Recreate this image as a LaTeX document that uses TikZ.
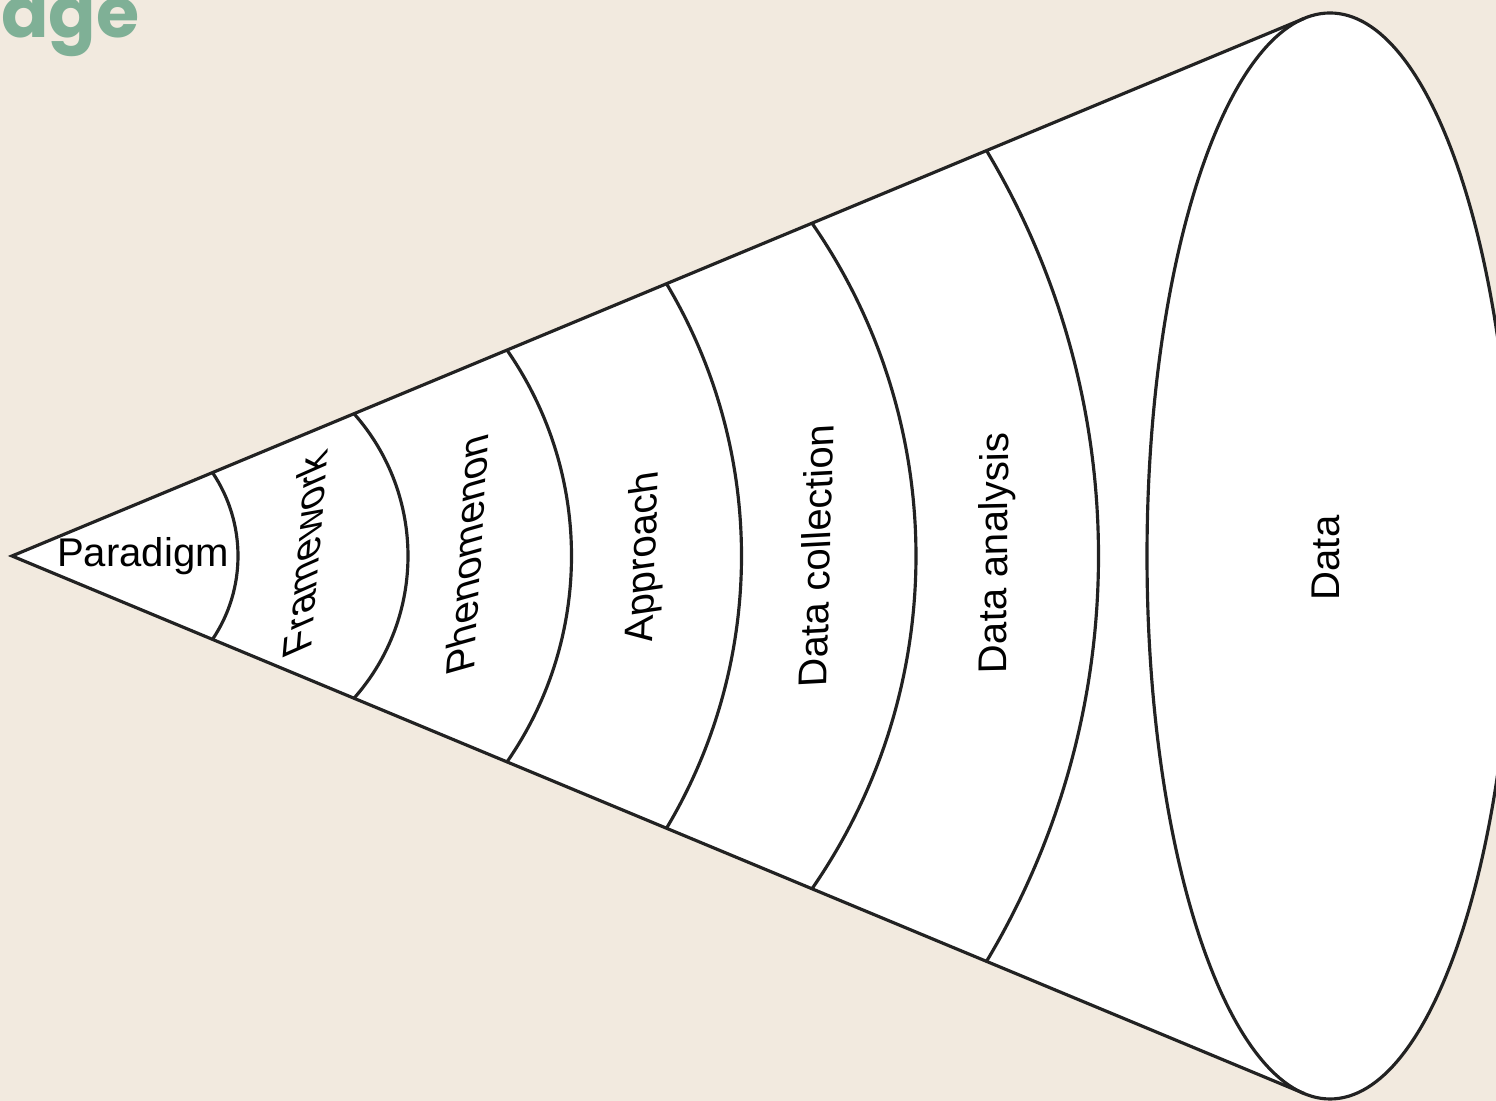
\documentclass[tikz,border=0pt]{standalone}
\usepackage{fontspec}
\setmainfont{Liberation Sans}
\newfontfamily\headfont{Poppins}
\usetikzlibrary{calc}
\definecolor{Paper}{HTML}{F2EADF}
\definecolor{Sage}{HTML}{7FB096}
\definecolor{Ink}{HTML}{222222}
\tikzset{
  coneline/.style={draw=Ink, line width=0.9pt},
  layerlabel/.style={font=\fontsize{11.4}{13.7}\selectfont, inner sep=0pt, text=black},
}

\begin{document}
\begin{tikzpicture}
  \useasboundingbox (0,0) rectangle (14.96,11.01);
  \fill[Paper] (0,0) rectangle (14.96,11.01);
  \clip (0,0) rectangle (14.96,11.01);
  \node[anchor=base east, text=Sage, inner sep=0pt,
    font=\headfont\bfseries\fontsize{19.9}{24}\selectfont]
    (head) at (1.40,10.63) {age};
  \coordinate (apex) at (0.12,5.45);
  \coordinate (tipU) at (13.046,10.827);
  \coordinate (tipL) at (13.046,0.073);
  \coordinate (base) at (13.30,5.45);
  % cone body
  \fill[white] (apex) -- (tipU) -- (tipL) -- cycle;
  \fill[white] (base) ellipse [x radius=1.83, y radius=5.43];
  \draw[coneline] (tipU) -- (apex) -- (tipL);
  \draw[coneline] (base) ellipse [x radius=1.83, y radius=5.43];
  % layer boundaries
  \def\slope{0.416}
  \foreach \m/\e in {2.38/2.125, 4.08/3.54, 5.715/5.07, 7.415/6.665, 9.16/8.12, 10.985/9.865} {
    \pgfmathsetmacro\h{\slope*(\e-0.12)}
    \pgfmathsetmacro\cx{(\m*\m-\e*\e-\h*\h)/(2*(\m-\e))}
    \pgfmathsetmacro\r{\m-\cx}
    \pgfmathsetmacro\ang{atan2(\h,\e-\cx)}
    \draw[coneline] (\e,5.45+\h) arc[start angle=\ang, end angle=-\ang, radius=\r];
  }
  % labels
  \node[layerlabel] (paradigm) at (1.43,5.45) {Paradigm};
  \node[layerlabel, rotate=85, xslant=-0.55] (framework) at (3.05,5.46) {Framework};
  \node[layerlabel, rotate=86.5, xslant=-0.35] (phenomenon) at (4.67,5.46) {Phenomenon};
  \node[layerlabel, rotate=88, xslant=-0.18] (approach) at (6.45,5.44) {Approach};
  \node[layerlabel, rotate=88.5, xslant=-0.08] (collection) at (8.16,5.45) {Data collection};
  \node[layerlabel, rotate=89.5, xslant=-0.03] (analysis) at (9.97,5.48) {Data analysis};
  \node[layerlabel, rotate=90] (data) at (13.26,5.43) {Data};
\end{tikzpicture}
\end{document}
